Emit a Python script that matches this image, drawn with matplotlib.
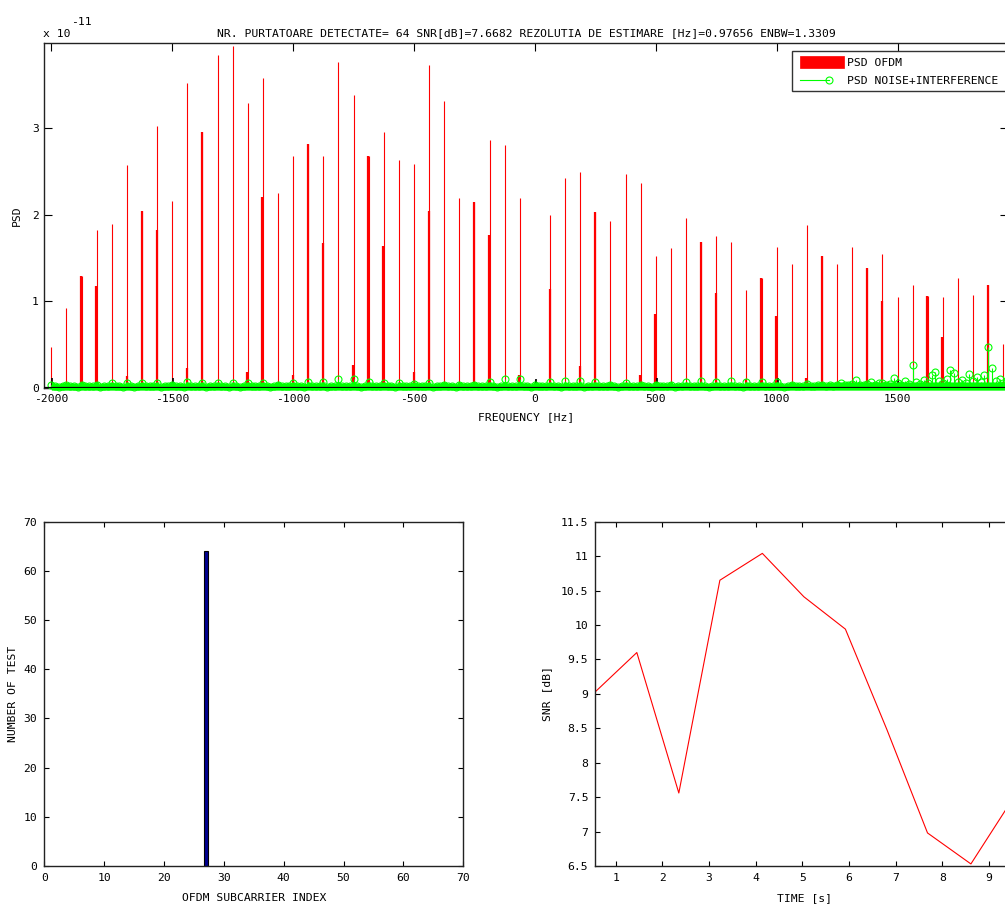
import numpy as np
import matplotlib
matplotlib.use("Agg")
import matplotlib.pyplot as plt
from matplotlib.patches import Rectangle
from matplotlib.lines import Line2D
from matplotlib.ticker import FuncFormatter

plt.rcParams['font.family'] = ['DejaVu Sans Mono', 'DejaVu Sans']
plt.rcParams['font.size'] = 8.2
plt.rcParams['axes.unicode_minus'] = False

# ---------------- data ----------------
title_text = ("NR. PURTATOARE DETECTATE= 64 SNR[dB]=7.6682 "
              "REZOLUTIA DE ESTIMARE [Hz]=0.97656 ENBW=1.3309")
PSD_SCALE = 1e-11

# 64 OFDM subcarrier frequencies [Hz]
carrier_freq = np.arange(-2000.0, 2000.0, 62.5)
# peak bin PSD of each subcarrier (x 1e-11)
psd_peak = [0.47, 0.92, 1.29, 1.82, 1.90, 2.58, 2.05, 3.03,
            2.16, 3.53, 2.96, 3.85, 3.95, 3.29, 3.58, 2.25,
            2.68, 2.82, 2.68, 3.77, 3.38, 2.68, 2.96, 2.63,
            2.59, 3.73, 3.32, 2.20, 2.15, 2.86, 2.81, 2.20,
            0.00, 2.00, 2.43, 2.50, 2.03, 1.93, 2.47, 2.37,
            1.52, 1.62, 1.96, 1.69, 1.76, 1.69, 1.13, 1.27,
            1.63, 1.43, 1.88, 1.52, 1.43, 1.63, 1.39, 1.55,
            1.05, 1.19, 1.06, 1.05, 1.27, 1.07, 1.19, 0.51]
# adjacent bin PSD of each subcarrier (x 1e-11)
psd_adj = [0.00, 0.00, 1.29, 1.18, 0.00, 0.14, 2.05, 1.82,
           0.00, 0.23, 2.96, 0.00, 0.00, 0.18, 2.21, 0.00,
           0.15, 2.82, 1.67, 0.00, 0.26, 2.68, 1.64, 0.00,
           0.18, 2.05, 0.00, 0.00, 2.15, 1.77, 0.00, 0.15,
           0.00, 1.14, 0.00, 0.25, 2.03, 0.00, 0.00, 0.15,
           0.85, 0.00, 0.00, 1.69, 1.10, 0.00, 0.10, 1.27,
           0.83, 0.00, 0.12, 1.52, 0.00, 0.00, 1.39, 1.00,
           0.00, 0.00, 1.06, 0.59, 0.00, 0.00, 1.19, 0.00]
# small dark components at a few subcarriers
pilot_idx = [0, 8, 32, 40, 48, 56]
pilot_psd = [0.12, 0.12, 0.10, 0.12, 0.12, 0.10]

# noise + interference PSD (x 1e-11) on a 15.625 Hz grid
noise_freq = np.arange(-2000.0, 2000.0, 15.625)
noise_psd = [
    0.03, 0.02, 0.01, 0.02, 0.03, 0.02, 0.02, 0.01, 0.04, 0.02, 0.02, 0.02, 0.04, 0.01, 0.02, 0.02,
    0.06, 0.02, 0.02, 0.01, 0.06, 0.02, 0.01, 0.02, 0.06, 0.02, 0.02, 0.02, 0.06, 0.01, 0.02, 0.02,
    0.04, 0.02, 0.02, 0.01, 0.07, 0.02, 0.02, 0.02, 0.06, 0.01, 0.02, 0.02, 0.06, 0.02, 0.02, 0.01,
    0.06, 0.02, 0.01, 0.02, 0.06, 0.02, 0.02, 0.02, 0.06, 0.02, 0.01, 0.02, 0.04, 0.02, 0.02, 0.02,
    0.06, 0.02, 0.02, 0.01, 0.07, 0.02, 0.02, 0.02, 0.07, 0.01, 0.02, 0.02, 0.10, 0.02, 0.02, 0.02,
    0.10, 0.02, 0.01, 0.02, 0.07, 0.02, 0.02, 0.02, 0.06, 0.02, 0.02, 0.01, 0.06, 0.02, 0.02, 0.02,
    0.05, 0.02, 0.02, 0.02, 0.06, 0.01, 0.02, 0.02, 0.04, 0.02, 0.02, 0.01, 0.04, 0.02, 0.02, 0.02,
    0.04, 0.02, 0.02, 0.02, 0.07, 0.02, 0.01, 0.02, 0.10, 0.02, 0.02, 0.02, 0.10, 0.02, 0.02, 0.01,
    0.03, 0.02, 0.02, 0.02, 0.07, 0.02, 0.02, 0.01, 0.08, 0.02, 0.02, 0.02, 0.08, 0.01, 0.02, 0.02,
    0.07, 0.02, 0.02, 0.02, 0.04, 0.02, 0.01, 0.02, 0.06, 0.02, 0.02, 0.02, 0.04, 0.02, 0.02, 0.01,
    0.04, 0.02, 0.02, 0.02, 0.04, 0.01, 0.02, 0.02, 0.07, 0.02, 0.02, 0.02, 0.08, 0.02, 0.01, 0.02,
    0.07, 0.02, 0.02, 0.02, 0.08, 0.02, 0.02, 0.01, 0.07, 0.02, 0.02, 0.02, 0.07, 0.02, 0.02, 0.02,
    0.07, 0.02, 0.01, 0.02, 0.04, 0.02, 0.02, 0.02, 0.05, 0.02, 0.02, 0.03, 0.04, 0.02, 0.03, 0.02,
    0.04, 0.06, 0.03, 0.04, 0.05, 0.09, 0.04, 0.03, 0.05, 0.07, 0.04, 0.06, 0.06, 0.04, 0.05, 0.11,
    0.06, 0.04, 0.08, 0.05, 0.26, 0.07, 0.05, 0.09, 0.06, 0.15, 0.18, 0.08, 0.06, 0.10, 0.21, 0.17,
    0.07, 0.09, 0.06, 0.16, 0.08, 0.13, 0.07, 0.15, 0.47, 0.23, 0.08, 0.10, 0.06, 0.09, 0.05, 0.07,
]

legend_labels = ["PSD OFDM", "PSD NOISE+INTERFERENCE"]
top_xticks = [-2000, -1500, -1000, -500, 0, 500, 1000, 1500]
top_yticks = [0, 1, 2, 3]

# detection histogram
subcarrier_index = [27]
detect_count = [64]

# SNR over time
time_s = [0.56, 1.45, 2.35, 3.23, 4.14, 5.03, 5.92, 6.81, 7.68, 8.61, 9.54]
snr_db = [9.03, 9.60, 7.56, 10.65, 11.04, 10.41, 9.94, 8.48, 6.98, 6.53, 7.51]
snr_yticks = [6.5, 7, 7.5, 8, 8.5, 9, 9.5, 10, 10.5, 11, 11.5]

# ---------------- figure ----------------
W, H = 1005, 905
fig = plt.figure(figsize=(W / 100, H / 100), dpi=100)


def fx(px):
    return px / W


def fy(py):
    return 1 - py / H


def axes_px(l, t, r, b):
    return fig.add_axes([fx(l), fy(b), (r - l) / W, (b - t) / H])


GREEN = (0, 1, 0)
FS = 8.2

# ---- top: PSD ----
ax = axes_px(44.3, 42.7, 1008, 388)
peak = np.array(psd_peak) * PSD_SCALE
adj = np.array(psd_adj) * PSD_SCALE
ax.vlines(carrier_freq, 0, peak, colors='red', lw=0.8, zorder=2)
ax.vlines(carrier_freq - 1.5, 0, adj, colors='red', lw=1.6, zorder=2)
ax.vlines(carrier_freq[pilot_idx] + 4, 0, np.array(pilot_psd) * PSD_SCALE,
          colors='black', lw=1.2, zorder=2)
nz = np.array(noise_psd) * PSD_SCALE
# dense stem markers merge into a solid strip close to zero
ring = 0.035 * PSD_SCALE
ax.fill_between(noise_freq, -0.025 * PSD_SCALE, np.minimum(nz, ring) + ring,
                step='mid', color=GREEN, lw=0, zorder=3, clip_on=False)
ax.vlines(noise_freq, 0, nz, colors=GREEN, lw=0.8, zorder=3)
ax.plot(noise_freq, nz, 'o', mfc='none', mec=GREEN, ms=5, mew=0.8,
        zorder=4, clip_on=False)
ax.axhline(0, color='black', lw=1.6, zorder=5)
ax.set_xticks(top_xticks)
ax.set_yticks([v * PSD_SCALE for v in top_yticks])
ax.set_xlim(-2029, 1957)
ax.set_ylim(0, 3.99e-11)
ax.yaxis.set_major_formatter(FuncFormatter(lambda v, p: f"{v / PSD_SCALE:g}"))
ax.tick_params(direction='in', top=True, right=True, length=5.8, width=0.8, pad=4)
ax.set_title(title_text, pad=5, fontsize=FS)
ax.set_xlabel("FREQUENCY [Hz]", labelpad=6)
ax.set_ylabel("PSD", labelpad=7)
fig.text(fx(43), fy(37), "x 10", va='baseline', ha='left')
fig.text(fx(71), fy(25), "-11", va='baseline', ha='left')

# legend (drawn in figure pixels like the original)
fig.add_artist(Rectangle((fx(792.3), fy(90.7)), (1030 - 792.3) / W, 40 / H,
                         transform=fig.transFigure, facecolor='white',
                         edgecolor='#333333', lw=1.0, zorder=10))
fig.add_artist(Rectangle((fx(800), fy(68.3)), 44 / W, 12.6 / H,
                         transform=fig.transFigure, facecolor='red',
                         edgecolor='red', lw=0.5, zorder=11))
fig.add_artist(Line2D([fx(800), fx(829)], [fy(80), fy(80)], color=GREEN,
                      lw=0.8, transform=fig.transFigure, zorder=11))
fig.add_artist(Line2D([fx(829)], [fy(80)], marker='o', mfc='none', mec=GREEN,
                      ms=5, mew=0.8, transform=fig.transFigure, zorder=11))
fig.text(fx(846.7), fy(62.5), legend_labels[0], va='center', ha='left', zorder=12)
fig.text(fx(846.7), fy(81.5), legend_labels[1], va='center', ha='left', zorder=12)

# ---- bottom left: histogram ----
ax2 = axes_px(44.3, 521.7, 463.3, 866)
ax2.bar(subcarrier_index, detect_count, width=0.8, color=(0, 0, 0.56),
        edgecolor='black', lw=0.8)
ax2.set_xticks(range(0, 71, 10))
ax2.set_yticks(range(0, 71, 10))
ax2.set_xlim(0, 70)
ax2.set_ylim(0, 70)
ax2.tick_params(direction='in', top=True, right=True, length=3.6, width=0.8, pad=5)
ax2.set_xlabel("OFDM SUBCARRIER INDEX", labelpad=7)
ax2.set_ylabel("NUMBER OF TEST", labelpad=4)

# ---- bottom right: SNR ----
ax3 = axes_px(595.3, 521.7, 1014.3, 866)
ax3.plot(time_s, snr_db, color='red', lw=0.8)
ax3.set_xticks(range(1, 10))
ax3.set_yticks(snr_yticks)
ax3.set_yticklabels([f"{v:g}" for v in snr_yticks])
ax3.set_xlim(0.56, 9.54)
ax3.set_ylim(6.5, 11.5)
ax3.tick_params(direction='in', top=True, right=True, length=3.6, width=0.8, pad=5)
ax3.set_xlabel("TIME [s]", labelpad=7)
ax3.set_ylabel("SNR [dB]", labelpad=6)

for a in (ax, ax2, ax3):
    for s in a.spines.values():
        s.set_linewidth(1.0)
        s.set_color('#222222')

fig.savefig("out.png", dpi=100)
